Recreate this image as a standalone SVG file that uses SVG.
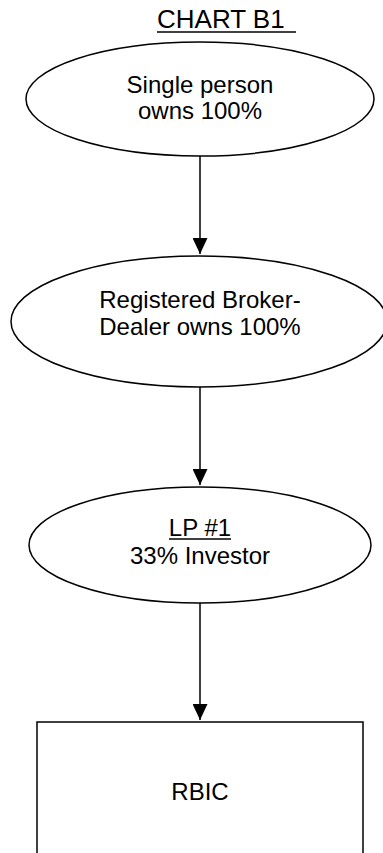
<svg xmlns="http://www.w3.org/2000/svg" width="383" height="853" viewBox="0 0 383 853">
<style>
.shape{fill:#fff;stroke:#000;stroke-width:1.5}
.t{font-family:"Liberation Sans",Arial,sans-serif;font-size:24px;fill:#000;text-anchor:middle}
.title{font-family:"Liberation Sans",Arial,sans-serif;font-size:26px;fill:#000}
.ul{stroke:#000;stroke-width:1.3}
.conn{stroke:#000;stroke-width:1.5;fill:none;marker-end:url(#arr)}
</style>
<defs>
<marker id="arr" markerWidth="16" markerHeight="15" refX="16" refY="7.5" orient="auto" markerUnits="userSpaceOnUse">
<path d="M0,0 L16,7.5 L0,15 Z" fill="#000"/>
</marker>
</defs>
<rect width="383" height="853" fill="#fff"/>
<g id="title">
<text class="title" x="157" y="28">CHART B1</text>
<line class="ul" x1="157" y1="32" x2="296" y2="32"/>
</g>
<g id="connectors">
<line class="conn" x1="200" y1="156" x2="200" y2="254"/>
<line class="conn" x1="200" y1="387" x2="200" y2="485"/>
<line class="conn" x1="200" y1="603" x2="200" y2="720"/>
</g>
<g id="n1">
<ellipse class="shape" cx="200" cy="99" rx="174" ry="57"/>
<text class="t" x="200" y="93">Single person</text>
<text class="t" x="200" y="119">owns 100%</text>
</g>
<g id="n2">
<ellipse class="shape" cx="199" cy="321.5" rx="188" ry="65.5"/>
<text class="t" x="200" y="308">Registered Broker-</text>
<text class="t" x="200" y="335">Dealer owns 100%</text>
</g>
<g id="n3">
<ellipse class="shape" cx="200" cy="545" rx="171" ry="58"/>
<text class="t" x="200" y="536">LP #1</text>
<line class="ul" x1="169" y1="539" x2="231" y2="539"/>
<text class="t" x="200" y="564">33% Investor</text>
</g>
<g id="n4">
<rect class="shape" x="37" y="722" width="326" height="150"/>
<text class="t" x="200" y="800">RBIC</text>
</g>
</svg>
